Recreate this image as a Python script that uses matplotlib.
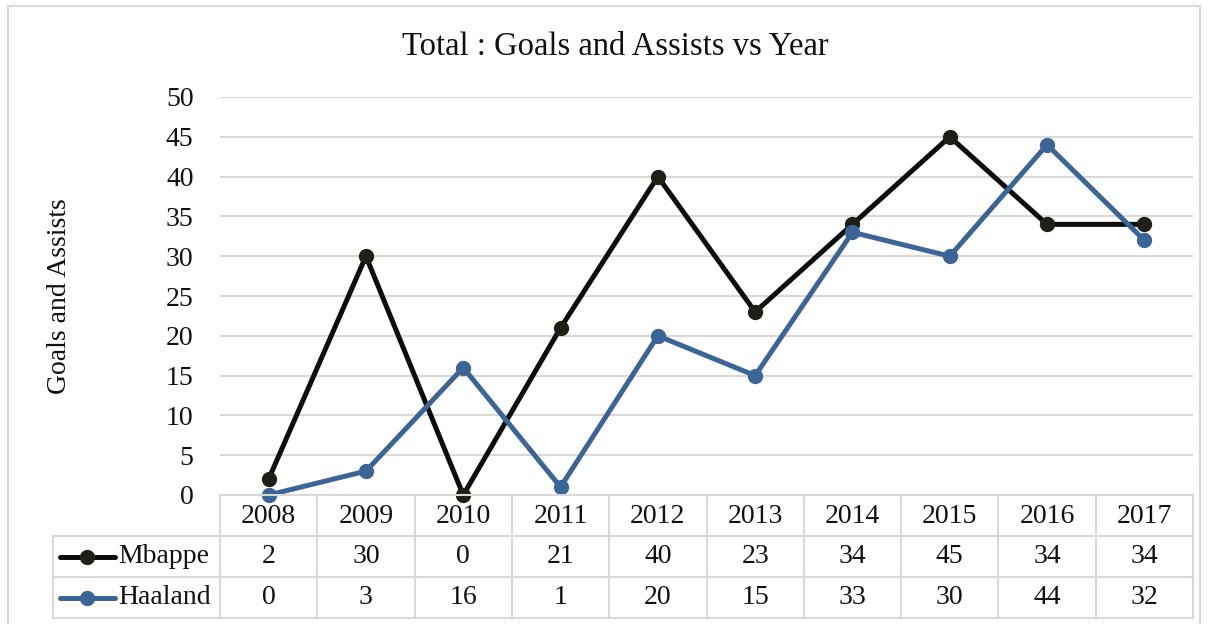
import numpy as np
import matplotlib.pyplot as plt

# chart data
years = ['2008', '2009', '2010', '2011', '2012', '2013', '2014', '2015', '2016', '2017']
mbappe = [2, 30, 0, 21, 40, 23, 34, 45, 34, 34]
haaland = [0, 3, 16, 1, 20, 15, 33, 30, 44, 32]
series_names = ['Mbappe', 'Haaland']

plt.rcParams['font.family'] = ['Liberation Serif', 'DejaVu Serif']

W, H = 1208, 624
fig = plt.figure(figsize=(W / 100, H / 100), dpi=100)

# pixel boxes -> figure fractions
def box(x0, y0, x1, y1):
    return [x0 / W, 1 - y1 / H, (x1 - x0) / W, (y1 - y0) / H]

# outer chart border
fig.patches.append(plt.Rectangle((8 / W, -0.05), (1200 - 8) / W, 1 - 6 / H + 0.05,
                                 transform=fig.transFigure, fill=False,
                                 edgecolor='#d9d9d9', linewidth=1.5))

ax = fig.add_axes(box(220, 97, 1193, 495))
x = np.arange(len(years))
colors = ['#0d0d0d', '#3a6596']
mfc = ['#1f1f17', '#3a6596']
data = [mbappe, haaland]

for vals, c, fc, name in zip(data, colors, mfc, series_names):
    ax.plot(x, vals, color=c, lw=3.6, marker='o', ms=10, mfc=fc, mec=fc,
            label=name, zorder=3, solid_capstyle='round', clip_on=False)

ax.set_xlim(-0.5, len(years) - 0.5)
ax.set_ylim(0, 50)
ax.set_yticks(range(0, 51, 5))
ax.yaxis.grid(True, color='#d9d9d9', lw=1.5)
ax.set_axisbelow(True)
ax.set_xticks([])
for s in ax.spines.values():
    s.set_visible(False)
ax.tick_params(axis='y', length=0, labelsize=20, pad=19, labelcolor='#111111')
fig.text(60 / W, 1 - 296 / H, 'Goals and Assists', rotation=90,
         ha='center', va='center', fontsize=20, color='#111111')

fig.text(615 / W, 1 - 47 / H, 'Total : Goals and Assists vs Year',
         ha='center', va='center', fontsize=23.5, color='#111111')

# data table below the plot
tax = fig.add_axes(box(53, 495, 1193, 618))
left = -0.5 - (220 - 53) / ((1193 - 220) / len(years))
tax.set_xlim(left, len(years) - 0.5)
tax.set_ylim(3, 0)
tax.axis('off')

gc = '#d9d9d9'
glw = 1.5
# horizontal lines
tax.plot([-0.5, len(years) - 0.5], [0, 0], color=gc, lw=glw, clip_on=False)
for yy in [1, 2, 3]:
    tax.plot([left, len(years) - 0.5], [yy, yy], color=gc, lw=glw, clip_on=False)
# vertical lines
tax.plot([left, left], [1, 3], color=gc, lw=glw, clip_on=False)
for i in range(len(years) + 1):
    tax.plot([i - 0.5, i - 0.5], [0, 3], color=gc, lw=glw, clip_on=False)

for i, yr in enumerate(years):
    tax.text(i, 0.52, yr, ha='center', va='center', fontsize=20, color='#111111')
for r, (vals, c, fc, name) in enumerate(zip(data, colors, mfc, series_names)):
    yy = r + 1.5
    for i, v in enumerate(vals):
        tax.text(i, yy, str(v), ha='center', va='center', fontsize=20, color='#111111')
    kx0 = left + 7 / 97.3
    kx1 = left + 62 / 97.3
    tax.plot([kx0, kx1], [yy, yy], color=c, lw=3.6, solid_capstyle='round', clip_on=False)
    tax.plot([(kx0 + kx1) / 2], [yy], marker='o', ms=10, mfc=fc, mec=fc, clip_on=False)
    tax.text(left + 65 / 97.3, yy, name, ha='left', va='center', fontsize=20, color='#111111')

fig.savefig('out.png', dpi=100)
